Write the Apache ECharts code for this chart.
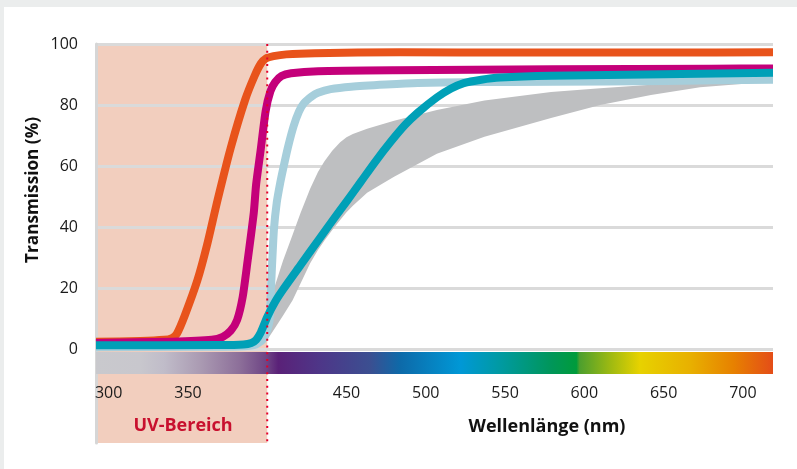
<!DOCTYPE html>
<html><head><meta charset="utf-8">
<script src="https://cdn.jsdelivr.net/npm/echarts@6/dist/echarts.min.js"></script>
<style>html,body{margin:0;padding:0;background:#ebeded}#c{width:797px;height:469px}</style>
</head><body><div id="c"></div>
<script>
// axis ranges / labels
const xMin = 292, xMax = 719;
const yMin = 0, yMax = 100, yStep = 20;
const xTickLabels = [300, 350, 450, 500, 550, 600, 650, 700];
const uvRange = [292, 400];

// curves
const orangeX = [292, 320, 335, 340, 343, 348, 356, 362, 368.7, 377, 386, 392, 396, 399, 404, 412, 430, 484, 560, 650, 719];
const orangeY = [2.4, 2.6, 3.0, 3.6, 5.0, 11, 22.6, 34, 48.9, 66, 81.6, 89.5, 93.6, 95.2, 96.0, 96.6, 97.0, 97.3, 97.2, 97.2, 97.3];

const magentaX = [292, 340, 365, 372, 377, 381, 384.5, 387.4, 391.5, 393, 395.8, 399, 402, 405, 409, 415, 432, 480, 580, 680, 719];
const magentaY = [2.0, 2.4, 3.0, 4.0, 6, 9.5, 17, 28, 44.6, 54, 65, 78, 84.5, 87.5, 89.5, 90.4, 91.1, 91.4, 91.7, 91.9, 92.0];

const lightBlueX = [292, 360, 385, 393, 397, 399.5, 401.5, 402.6, 404.2, 406, 408.2, 410, 413, 416.6, 420, 423, 428, 432, 440, 453, 475, 495, 526, 580, 650, 719];
const lightBlueY = [0.6, 0.7, 0.9, 1.5, 3, 5.5, 9.5, 22.6, 39, 48, 54.5, 59, 66, 73, 77.8, 80.5, 82.8, 84, 85.2, 86, 86.7, 87.2, 87.5, 87.6, 87.9, 88.3];

const tealX = [292, 370, 385, 390, 393, 396, 400, 405, 410, 421, 432, 442, 450, 459, 468, 478, 487, 495, 507, 516, 524, 535, 547, 579, 650, 719];
const tealY = [1.2, 1.3, 1.5, 2.0, 3.0, 5.5, 10.5, 15.5, 19.5, 27.5, 35.5, 42.7, 48.3, 54.8, 61.3, 68, 73.5, 77.5, 82.5, 85.4, 87.2, 88.3, 89.0, 89.6, 90.1, 90.6];

// gray band (upper and lower bounds at the same wavelengths)
const grayX     = [385, 390, 395, 400, 405, 410, 416, 421, 427, 432, 436, 441, 446, 450, 454, 463, 472, 480, 507, 537, 579, 610, 642, 673, 705, 719];
const grayUpper = [0.5, 3, 6, 11, 21, 29, 37.5, 44.6, 52.5, 58, 61.5, 65, 67.8, 69.4, 70.5, 72.2, 73.6, 74.8, 78.4, 81.5, 84.3, 85.5, 86.6, 87.2, 87.7, 87.9];
const grayLower = [0.3, 0.6, 1, 3, 7, 11, 16, 21.5, 28, 32.5, 35.5, 39, 42.3, 44.8, 47, 51.2, 54, 56.5, 64, 69.6, 75.7, 80, 83.3, 85.8, 87.1, 87.5];

// spectrum strip
const specNm = [292, 320, 335, 358, 383, 400, 407, 433, 465, 484, 522, 545, 579, 595, 597, 616, 635, 667, 694, 719];
const specColor = ['#c9c9cd', '#c8c7cd', '#c0bcc9', '#aa9ab2', '#8c6e99', '#6d4384', '#5a2178', '#4e3688', '#3b4f91', '#0d6aa9', '#0098d6', '#009aa6', '#00965a', '#009b3b', '#4c9f2e', '#9cb912', '#e7d200', '#e8b000', '#e78100', '#e44d18'];

const FONT = 'Open Sans';
const zip = (xs, ys) => xs.map((x, i) => [x, ys[i]]);

// y title: bold, slightly condensed to the reference length
const yTitle = 'Transmission (%)';
const yTitleFont = 'bold 18px "Open Sans"';
const mctx = document.createElement('canvas').getContext('2d');
mctx.font = yTitleFont;
const yTitleScale = Math.min(1, 146 / mctx.measureText(yTitle).width);

function lineSeries(name, xs, ys, color, z) {
  return {
    name, type: 'line', xAxisIndex: 0, yAxisIndex: 0, data: zip(xs, ys),
    showSymbol: false, symbol: 'none', smooth: 0.2,
    lineStyle: { color, width: 8, cap: 'butt', join: 'round' }, z, silent: true
  };
}

const chart = echarts.init(document.getElementById('c'));
const option = {
  animation: false,
  backgroundColor: 'transparent',
  graphic: [
    { type: 'rect', z: -100, shape: { x: 4, y: 7, width: 793, height: 462 }, style: { fill: '#ffffff' } },
    { type: 'text', z: 20, x: 183, y: 426, style: { text: 'UV-Bereich', fill: '#c8102e', font: 'bold 18px "Open Sans"', textAlign: 'center', textVerticalAlign: 'middle' } },
    { type: 'text', z: 20, x: 547, y: 427, style: { text: 'Wellenlänge (nm)', fill: '#111111', font: 'bold 18px "Open Sans"', textAlign: 'center', textVerticalAlign: 'middle' } },
    { type: 'text', z: 20, x: 33, y: 190, rotation: Math.PI / 2, scaleX: yTitleScale, style: { text: yTitle, fill: '#111111', font: yTitleFont, textAlign: 'center', textVerticalAlign: 'middle' } }
  ],
  grid: [
    { left: 96, right: 24, top: 44, bottom: 120 },
    { left: 96, right: 24, top: 352, bottom: 95 },
    { left: 96, right: 24, top: 44, bottom: 26 }
  ],
  xAxis: [
    { type: 'value', gridIndex: 0, min: xMin, max: xMax, show: false },
    { type: 'value', gridIndex: 1, min: xMin, max: xMax, z: 1,
      axisLine: { show: false }, axisTick: { show: false }, splitLine: { show: false },
      axisLabel: { customValues: xTickLabels, fontSize: 16, fontFamily: FONT, color: '#1a1a1a', margin: 11 } },
    { type: 'value', gridIndex: 2, min: xMin, max: xMax, show: false }
  ],
  yAxis: [
    { type: 'value', gridIndex: 0, min: yMin, max: yMax, interval: yStep, z: 1,
      axisLine: { show: false }, axisTick: { show: false },
      axisLabel: { fontSize: 16, fontFamily: FONT, color: '#1a1a1a', margin: 18 },
      splitLine: { lineStyle: { color: '#dadada', width: 3 } } },
    { type: 'value', gridIndex: 1, min: 0, max: 1, show: false },
    { type: 'value', gridIndex: 2, min: 0, max: 1, z: 1,
      axisLine: { show: true, lineStyle: { color: '#d6d6d6', width: 3 } },
      axisTick: { show: false }, axisLabel: { show: false }, splitLine: { show: false } }
  ],
  series: [
    { type: 'custom', name: 'uv', xAxisIndex: 2, yAxisIndex: 2, z: 0, silent: true,
      data: [[uvRange[0], 0]],
      renderItem: function (params, api) {
        const a = api.coord([uvRange[0], 1]), b = api.coord([uvRange[1], 0]);
        return { type: 'rect', shape: { x: a[0], y: a[1], width: b[0] - a[0], height: b[1] - a[1] }, style: { fill: '#f2cebe' } };
      } },
    { type: 'custom', name: 'band', xAxisIndex: 0, yAxisIndex: 0, z: 3, silent: true,
      data: [[grayX[0], grayLower[0]]],
      renderItem: function (params, api) {
        const pts = [];
        for (let i = 0; i < grayX.length; i++) pts.push(api.coord([grayX[i], grayUpper[i]]));
        for (let i = grayX.length - 1; i >= 0; i--) pts.push(api.coord([grayX[i], grayLower[i]]));
        return { type: 'polygon', shape: { points: pts }, style: { fill: '#bebfc1' } };
      } },
    lineSeries('lightblue', lightBlueX, lightBlueY, '#a6cedb', 4),
    lineSeries('orange', orangeX, orangeY, '#e8531b', 5),
    lineSeries('magenta', magentaX, magentaY, '#c4007a', 6),
    lineSeries('teal', tealX, tealY, '#00a0b7', 7),
    { type: 'custom', name: 'spectrum', xAxisIndex: 1, yAxisIndex: 1, z: 8, silent: true,
      data: [[xMin, 0]],
      renderItem: function (params, api) {
        const a = api.coord([xMin, 1]), b = api.coord([xMax, 0]);
        const stops = specNm.map((nm, i) => ({ offset: (nm - xMin) / (xMax - xMin), color: specColor[i] }));
        return { type: 'rect', shape: { x: a[0], y: a[1], width: b[0] - a[0], height: b[1] - a[1] },
          style: { fill: new echarts.graphic.LinearGradient(0, 0, 1, 0, stops) } };
      } },
    { type: 'custom', name: 'uvline', xAxisIndex: 2, yAxisIndex: 2, z: 10, silent: true,
      data: [[uvRange[1], 0]],
      renderItem: function (params, api) {
        const a = api.coord([uvRange[1], 1]), b = api.coord([uvRange[1], 0]);
        return { type: 'line', shape: { x1: a[0], y1: a[1], x2: b[0], y2: b[1] },
          style: { stroke: '#e3002b', lineWidth: 2, lineDash: [2, 4.7] } };
      } }
  ]
};
chart.setOption(option);
</script>
</body></html>
